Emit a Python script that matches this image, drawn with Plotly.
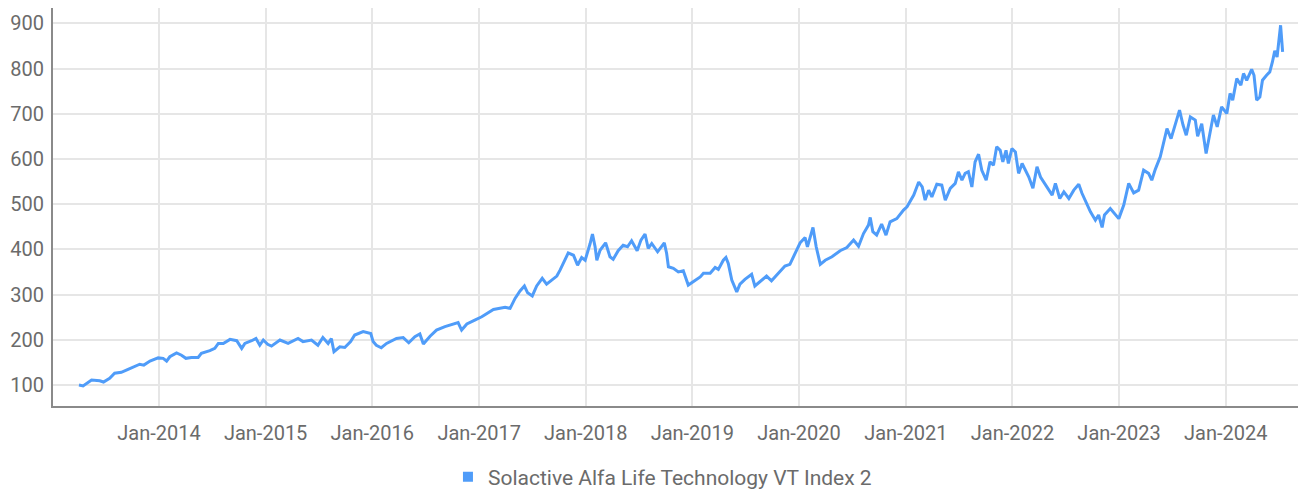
import plotly.graph_objects as go

series_name = "Solactive Alfa Life Technology VT Index 2"

dates = [
    "2013-04-02", "2013-04-16", "2013-05-15", "2013-06-12", "2013-06-25", "2013-07-16", "2013-08-02",
    "2013-08-25", "2013-09-17", "2013-10-06", "2013-10-16", "2013-10-27", "2013-11-10", "2013-12-01",
    "2013-12-29", "2014-01-15", "2014-01-27", "2014-02-07", "2014-03-02", "2014-03-19", "2014-04-03",
    "2014-04-22", "2014-05-15", "2014-05-26", "2014-06-24", "2014-07-11", "2014-07-23", "2014-08-09",
    "2014-09-01", "2014-09-24", "2014-10-11", "2014-10-22", "2014-11-14", "2014-11-29", "2014-12-12",
    "2014-12-24", "2015-01-08", "2015-01-21", "2015-02-19", "2015-03-19", "2015-04-22", "2015-05-09",
    "2015-06-07", "2015-06-29", "2015-07-16", "2015-08-03", "2015-08-14", "2015-08-23", "2015-09-12",
    "2015-09-29", "2015-10-19", "2015-11-02", "2015-12-01", "2015-12-27", "2016-01-04", "2016-01-15",
    "2016-02-01", "2016-02-19", "2016-03-24", "2016-04-16", "2016-05-05", "2016-05-26", "2016-06-12",
    "2016-06-24", "2016-07-17", "2016-08-08", "2016-09-06", "2016-10-04", "2016-10-21", "2016-11-02",
    "2016-11-20", "2016-12-17", "2017-01-10", "2017-02-19", "2017-03-31", "2017-04-17", "2017-05-04",
    "2017-05-21", "2017-06-05", "2017-06-16", "2017-07-02", "2017-07-17", "2017-08-05", "2017-08-20",
    "2017-09-12", "2017-09-24", "2017-10-05", "2017-10-16", "2017-11-02", "2017-11-20", "2017-12-04",
    "2017-12-18", "2017-12-30", "2018-01-16", "2018-01-24", "2018-02-02", "2018-02-08", "2018-02-19",
    "2018-03-10", "2018-03-25", "2018-04-05", "2018-04-22", "2018-05-09", "2018-05-24", "2018-06-07",
    "2018-06-26", "2018-07-09", "2018-07-23", "2018-08-03", "2018-08-15", "2018-09-04", "2018-09-27",
    "2018-10-05", "2018-10-11", "2018-10-28", "2018-11-14", "2018-12-01", "2018-12-18", "2019-01-10",
    "2019-01-28", "2019-02-08", "2019-03-03", "2019-03-20", "2019-03-31", "2019-04-17", "2019-04-26",
    "2019-05-04", "2019-05-16", "2019-06-02", "2019-06-13", "2019-06-30", "2019-07-23", "2019-08-03",
    "2019-08-20", "2019-09-12", "2019-09-29", "2019-10-22", "2019-11-14", "2019-12-01", "2019-12-18",
    "2020-01-05", "2020-01-22", "2020-01-30", "2020-02-18", "2020-02-29", "2020-03-14", "2020-03-31",
    "2020-04-23", "2020-05-21", "2020-06-13", "2020-07-06", "2020-07-23", "2020-08-09", "2020-08-26",
    "2020-09-01", "2020-09-10", "2020-09-23", "2020-10-10", "2020-10-25", "2020-11-08", "2020-12-01",
    "2020-12-24", "2021-01-05", "2021-01-28", "2021-02-14", "2021-02-26", "2021-03-08", "2021-03-20",
    "2021-03-31", "2021-04-17", "2021-05-04", "2021-05-16", "2021-06-02", "2021-06-19", "2021-06-30",
    "2021-07-12", "2021-07-23", "2021-08-03", "2021-08-15", "2021-08-26", "2021-09-07", "2021-09-18",
    "2021-10-03", "2021-10-16", "2021-10-28", "2021-11-08", "2021-11-20", "2021-11-29", "2021-12-10",
    "2021-12-18", "2021-12-30", "2022-01-11", "2022-01-22", "2022-02-03", "2022-02-14", "2022-02-26",
    "2022-03-12", "2022-03-26", "2022-04-07", "2022-04-18", "2022-05-05", "2022-05-17", "2022-05-28",
    "2022-06-12", "2022-06-26", "2022-07-13", "2022-07-30", "2022-08-16", "2022-08-27", "2022-09-11",
    "2022-09-25", "2022-10-12", "2022-10-23", "2022-11-04", "2022-11-12", "2022-12-02", "2022-12-19",
    "2022-12-31", "2023-01-17", "2023-02-03", "2023-02-20", "2023-03-09", "2023-03-26", "2023-04-12",
    "2023-04-23", "2023-05-05", "2023-05-22", "2023-06-03", "2023-06-14", "2023-06-28", "2023-07-13",
    "2023-07-27", "2023-08-08", "2023-08-19", "2023-09-02", "2023-09-19", "2023-09-27", "2023-10-11",
    "2023-10-26", "2023-11-08", "2023-11-20", "2023-12-03", "2023-12-18", "2024-01-05", "2024-01-16",
    "2024-01-25", "2024-02-08", "2024-02-22", "2024-03-02", "2024-03-13", "2024-03-30", "2024-04-07",
    "2024-04-16", "2024-04-27", "2024-05-06", "2024-05-20", "2024-05-31", "2024-06-09", "2024-06-17",
    "2024-06-25", "2024-07-07", "2024-07-14",
]

values = [
    100, 98, 111, 109.5, 106.6, 115, 126,
    128, 134.7, 140.5, 144, 146, 144, 153,
    160, 159, 153, 162.5, 171, 166, 159,
    161, 161, 170, 176, 181, 192, 192,
    201, 198, 181, 192, 198, 203, 188,
    199.5, 190, 186, 199.5, 192, 203, 196,
    199.5, 188, 205, 192, 203, 173.6, 184.6,
    183, 196, 210.5, 218, 214, 196, 188,
    182.5, 192, 203, 205, 193.5, 207, 213,
    190.6, 208, 221.5, 229, 235, 238, 221.5,
    235, 243.6, 251, 267, 272, 269.5, 291.6,
    308, 319, 304, 297, 319, 336, 323,
    333.6, 341, 354, 369, 392, 387, 365,
    382, 376, 413, 434, 405.7, 376, 398,
    414.5, 383.6, 378, 397, 409, 405.7, 419,
    397, 420.5, 434, 402, 413, 394.6, 414.5,
    391, 361.5, 358, 350, 352.6, 321, 332,
    339, 347, 347, 360, 355.7, 376, 382,
    369, 332, 306, 323, 333.6, 345, 319,
    328, 341, 330.5, 347, 363, 367, 391,
    414.5, 426, 405.7, 448.5, 405.7, 367, 376,
    383.6, 397, 404, 420.5, 407, 435, 453.6,
    470.6, 439, 431.5, 456, 431.5, 461, 468,
    487, 494, 520, 549, 538, 509, 531,
    516, 544, 542, 509, 535, 546, 571.6,
    553, 568, 571.6, 538, 593.5, 610.5, 575,
    553, 593.5, 586, 627, 619, 593.5, 619,
    590, 623, 615.6, 568, 590, 575, 560,
    535, 582.5, 560, 549, 535, 520, 546,
    512.5, 527, 512.5, 531, 544, 524, 501.6,
    483, 464.6, 476, 448.5, 476, 490.5, 476,
    468, 498, 546, 525, 531, 575, 568,
    553, 577, 604.5, 634, 667, 645, 678,
    708, 675, 652.5, 693, 686, 650, 678,
    612, 656, 697, 671, 715, 700.5, 745,
    730, 778, 763, 789, 774, 798, 785,
    730, 737, 774, 785, 792.5, 814.5, 839,
    825.5, 895.6, 836.6,
]

y_ticks = [100, 200, 300, 400, 500, 600, 700, 800, 900]
x_ticks = ["2014-01-01", "2015-01-01", "2016-01-01", "2017-01-01", "2018-01-01", "2019-01-01",
           "2020-01-01", "2021-01-01", "2022-01-01", "2023-01-01", "2024-01-01"]
x_tick_labels = ["Jan-2014", "Jan-2015", "Jan-2016", "Jan-2017", "Jan-2018", "Jan-2019",
                 "Jan-2020", "Jan-2021", "Jan-2022", "Jan-2023", "Jan-2024"]

line_color = "#4f9cf9"
text_color = "#6b6b6b"
grid_color = "#e6e6e6"
axis_color = "#8a8a8a"
font_family = "Roboto, 'Open Sans', sans-serif"

fig = go.Figure()
fig.add_trace(go.Scatter(
    x=dates, y=values, mode="lines", name=series_name,
    line=dict(color=line_color, width=3), showlegend=False,
))
fig.add_trace(go.Scatter(
    x=[None], y=[None], mode="markers", name=series_name,
    marker=dict(symbol="square", color=line_color, size=10), showlegend=True,
))

fig.update_layout(
    width=1298, height=491,
    margin=dict(l=45, r=0, t=0, b=93, autoexpand=False),
    paper_bgcolor="white", plot_bgcolor="white",
    font=dict(family=font_family, color=text_color, size=20),
    legend=dict(orientation="h", x=0.4864, xanchor="center", y=-0.1784, yanchor="middle",
                font=dict(size=21, color=text_color), itemwidth=30),
    xaxis=dict(
        type="date", range=["2013-01-03", "2024-10-02"], automargin=False,
        tickvals=x_ticks, ticktext=x_tick_labels,
        showgrid=True, gridcolor=grid_color, gridwidth=2,
        showline=True, linecolor=axis_color, linewidth=2,
        ticks="outside", ticklen=8, tickcolor="rgba(0,0,0,0)",
        tickfont=dict(size=20, color=text_color), zeroline=False,
    ),
    yaxis=dict(
        range=[53.6, 933.8], tickvals=y_ticks, automargin=False,
        showgrid=True, gridcolor=grid_color, gridwidth=2,
        showline=True, linecolor=axis_color, linewidth=2,
        ticks="outside", ticklen=3, tickcolor="rgba(0,0,0,0)",
        tickfont=dict(size=20, color=text_color), zeroline=False,
    ),
)

fig.write_html("out.html")
